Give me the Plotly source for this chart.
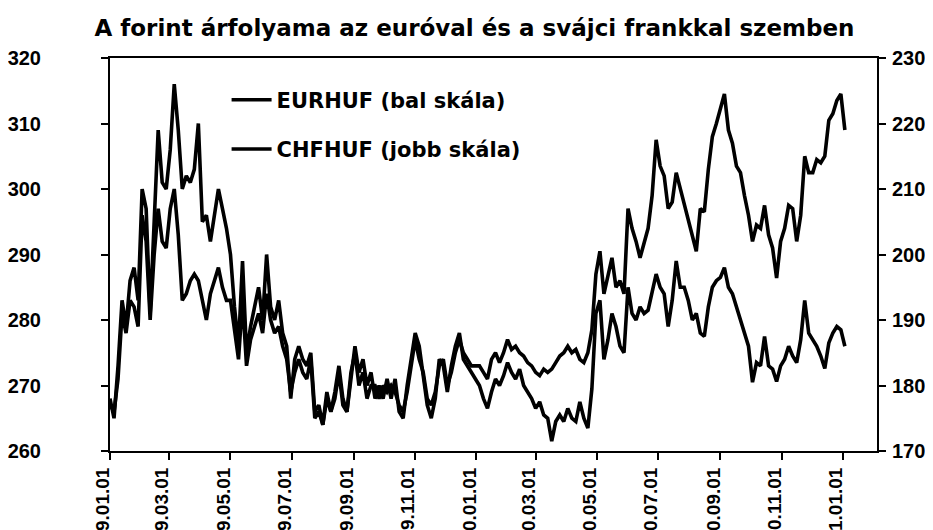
import pandas as pd
import plotly.graph_objects as go

title = "A forint árfolyama az euróval és a svájci frankkal szemben"
eur_name = "EURHUF (bal skála)"
chf_name = "CHFHUF (jobb skála)"

# sampling dates (every 4 days from 2009-01-01)
dates = pd.date_range("2009-01-01", periods=184, freq="4D")

eurhuf = [
    268, 265, 273, 283, 279, 286, 288, 283, 300, 297,
    281, 296, 309, 301, 300, 306, 316, 309, 300, 302,
    301, 303, 310, 295, 296, 292, 296, 300, 297, 294,
    290, 282, 276, 289, 275, 279, 282, 285, 280, 290,
    282, 280, 283, 278, 276, 268, 274, 276, 274, 273,
    275, 266, 267, 264, 269, 266, 269, 273, 268, 266,
    271, 276, 272, 274, 270, 272, 268, 270, 268, 271,
    268, 271, 266, 265, 270, 274, 278, 276, 271, 267,
    265, 268, 274, 273, 269, 273, 276, 278, 274, 273,
    272, 271, 270, 268, 266.5, 269, 271, 270, 271.5, 273.5,
    272, 271, 272.5, 270, 269, 268, 266.5, 267.5, 265.5, 265,
    261.5, 264.5, 265.5, 264.5, 266.5, 265, 264.5, 267.5, 265, 263.5,
    269.5, 281, 283, 274, 277, 281, 279, 276, 275, 285,
    281, 280, 282, 281, 281.5, 284, 287, 285, 284, 279,
    283, 289, 285, 285, 283, 280, 281, 278, 277.5, 282,
    285, 286, 286.5, 288, 285, 284, 282, 280, 278, 276,
    270.5, 273.5, 273, 277.5, 273, 272.5, 270.6, 273, 274, 276,
    274.5, 273.5, 277, 283, 278, 277, 276, 274.5, 272.6, 276.5,
    278, 279, 278.5, 276,
]

chfhuf = [
    177, 176, 181, 191, 188, 193, 192, 189, 206, 202,
    190, 200, 207, 202, 201, 207, 210, 203, 193, 194,
    196, 197, 196, 193, 190, 194, 196, 198, 195, 193,
    193, 188, 184, 193, 183, 187, 189, 191, 188, 194,
    190, 188, 189, 186, 184, 179, 182, 184, 182, 181,
    184, 175, 176, 174, 178, 176, 178, 182, 177, 176,
    182, 185, 180, 182, 178, 180, 180, 178, 180, 179,
    180, 179, 177, 176, 179, 183, 187, 184, 182, 178,
    177, 179, 183, 184, 180, 182, 185, 187, 185, 184,
    183, 183, 183, 182, 181, 184, 185, 183.5, 185, 187,
    185.5, 186, 185, 184.5, 183.5, 183, 182, 181.5, 182.5, 182,
    182.5, 183.5, 184.5, 185, 186, 185, 185.5, 184, 183.5, 185,
    188.5, 197, 200.5, 194, 197, 199.5, 195, 196, 194, 207,
    204, 202, 199.5, 202, 204, 209, 217.5, 213.5, 212, 207,
    208, 212.5, 210, 208, 205.5, 203, 200.5, 207, 206.5, 213,
    218, 220, 222.5, 224.5, 219, 217, 213.5, 212.5, 209, 206,
    202, 204.5, 204, 207.5, 203, 201, 196.4, 202, 204, 207.5,
    207, 202, 206, 215, 212.5, 212.5, 214.5, 214, 215, 220.5,
    221.5, 223.5, 224.5, 219,
]

left_ticks = [260, 270, 280, 290, 300, 310, 320]
right_ticks = [170, 180, 190, 200, 210, 220, 230]
x_range = ["2009-01-01", "2011-02-04"]

FONT = "Liberation Sans, Arial, sans-serif"
WIDE = "DejaVu Sans, Liberation Sans, sans-serif"

fig = go.Figure()
fig.add_trace(go.Scatter(x=dates, y=eurhuf, name=f"<b>{eur_name}</b>", mode="lines",
                         line=dict(color="black", width=3.6), legendgroup="a"))
fig.add_trace(go.Scatter(x=dates, y=chfhuf, name=f"<b>{chf_name}</b>", mode="lines",
                         line=dict(color="black", width=3.6), yaxis="y2", legendgroup="b"))

tick_style = dict(tickcolor="black", tickwidth=1.5, ticklen=7)
axis_common = dict(showgrid=False, zeroline=False, showline=True, linecolor="black",
                   linewidth=2, ticks="outside", **tick_style)
inner_common = dict(showgrid=False, zeroline=False, showline=False, ticks="inside",
                    showticklabels=False, **tick_style)

fig.update_layout(
    width=933, height=530,
    margin=dict(l=102, r=64, t=50, b=87, autoexpand=False),
    paper_bgcolor="white", plot_bgcolor="white",
    title=dict(text=f"<b>{title}</b>", x=0.5, xref="container", xanchor="center",
               y=0.962, yanchor="middle",
               font=dict(family=WIDE, size=23, color="black")),
    font=dict(family=FONT, color="black"),
    xaxis=dict(**axis_common, mirror=True, type="date", range=x_range,
               tick0="2009-01-01", dtick="M2", tickformat="<b>%y.%m.%d</b>",
               tickangle=-90, ticklabelshift=-7,
               tickfont=dict(family=FONT, size=19, color="black")),
    xaxis2=dict(**inner_common, overlaying="x", anchor="y", side="bottom", type="date",
                range=x_range, tick0="2009-01-01", dtick="M2"),
    yaxis=dict(**axis_common, range=[260, 320], tickvals=left_ticks,
               ticktext=[f"<b>{v}</b>" for v in left_ticks], ticklabelstandoff=56,
               tickfont=dict(family=FONT, size=20, color="black")),
    yaxis2=dict(**axis_common, range=[170, 230], overlaying="y", side="right",
                tickvals=right_ticks, ticktext=[f"<b>{v}</b>" for v in right_ticks],
                ticklabelstandoff=2, ticklabeloverflow="allow",
                tickfont=dict(family=FONT, size=20, color="black")),
    yaxis3=dict(**inner_common, overlaying="y", anchor="x", side="left",
                range=[260, 320], tickvals=left_ticks),
    yaxis4=dict(**inner_common, overlaying="y", anchor="x", side="right",
                range=[170, 230], tickvals=right_ticks),
    legend=dict(x=0.152, y=0.945, xanchor="left", yanchor="top", bgcolor="rgba(0,0,0,0)",
                font=dict(family=WIDE, size=21, color="black"), traceorder="grouped",
                tracegroupgap=19, itemwidth=40),
    showlegend=True,
)

fig.write_html("out.html")
